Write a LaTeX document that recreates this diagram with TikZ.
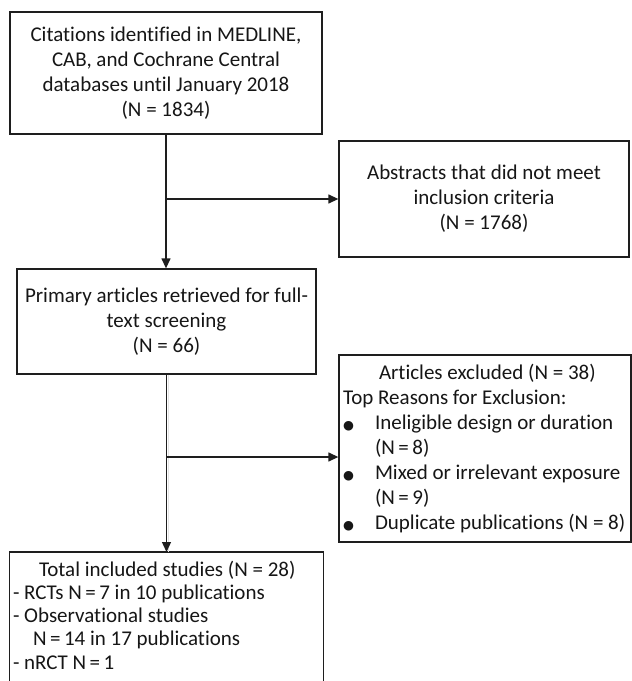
\documentclass[tikz,border=0pt]{standalone}
\usepackage{fontspec}
\setmainfont{Carlito}[Ligatures={NoCommon}]
\newfontfamily\dejavu{DejaVu Sans}
\usetikzlibrary{arrows.meta}
\definecolor{linec}{HTML}{1E1E1E}
\definecolor{textc}{HTML}{161616}
\newcommand\blt{{\dejavu\fontsize{12.5}{12.5}\selectfont ●}}
\begin{document}
\begin{tikzpicture}[x=1pt,y=-1pt,
  boxstyle/.style={draw=linec, line width=1.3pt, inner sep=0pt, align=center, text=textc,
    font=\fontsize{21}{25}\selectfont},
  framestyle/.style={draw=linec, line width=1.3pt},
  arr/.style={draw=linec, line width=1.3pt, -{Triangle[length=10pt,width=9pt]}},
]
\useasboundingbox (0,0) rectangle (632,681);
\fill[white] (0,0) rectangle (632,681);

\node[boxstyle, minimum width=312pt, minimum height=122pt] (cit) at (166,73)
  {Citations identified in MEDLINE,\\CAB, and Cochrane Central\\databases until January 2018\\(N = 1834)};

\node[boxstyle, minimum width=290pt, minimum height=116pt] (abs) at (484,199)
  {Abstracts that did not meet\\inclusion criteria\\(N = 1768)};

\node[boxstyle, minimum width=299pt, minimum height=105pt] (prim) at (166.5,321.5)
  {Primary articles retrieved for full-\\text screening\\(N = 66)};

\node[boxstyle, minimum width=292pt, minimum height=187pt, align=flush left, text width=284pt, inner xsep=4pt] (excl) at (485,448.5)
  {\hspace*{36pt}Articles excluded (N = 38)\\
   Top Reasons for Exclusion:\\
   \makebox[32pt][l]{\blt}Ineligible design or duration\\
   \hspace*{32pt}(N\,=\,8)\\
   \makebox[32pt][l]{\blt}Mixed or irrelevant exposure\\
   \hspace*{32pt}(N\,=\,9)\\
   \makebox[32pt][l]{\blt}Duplicate publications (N = 8)};

\node[boxstyle, draw=none, anchor=north, align=flush left, text width=307pt, inner xsep=3pt, inner ysep=8pt,
  font=\fontsize{21}{23.3}\selectfont] (tot) at (166.5,552)
  {\hspace*{26pt}Total included studies (N = 28)\\
   - RCTs N\,=\,7 in 10 publications\\
   - Observational studies\\
   \hspace*{20pt}N\,=\,14 in 17 publications\\
   - nRCT N\,=\,1};
\coordinate (bend) at (0,700);
\draw[framestyle] (tot.north west |- bend) -- (tot.north west) -- (tot.north east) -- (tot.north east |- bend);

\draw[arr] (cit.south) -- (cit.south |- prim.north);
\coordinate (j1) at (cit.south |- abs.west);
\draw[arr] (j1) -- (abs.west);

\draw[gray!22, line width=0.9pt] ([xshift=1.6pt]prim.south) -- ([xshift=1.6pt]tot.north);
\draw[arr] (prim.south) -- (prim.south |- tot.north);
\coordinate (j2) at (166.5,457);
\draw[arr] (j2) -- (excl.west |- j2);
\end{tikzpicture}
\end{document}
